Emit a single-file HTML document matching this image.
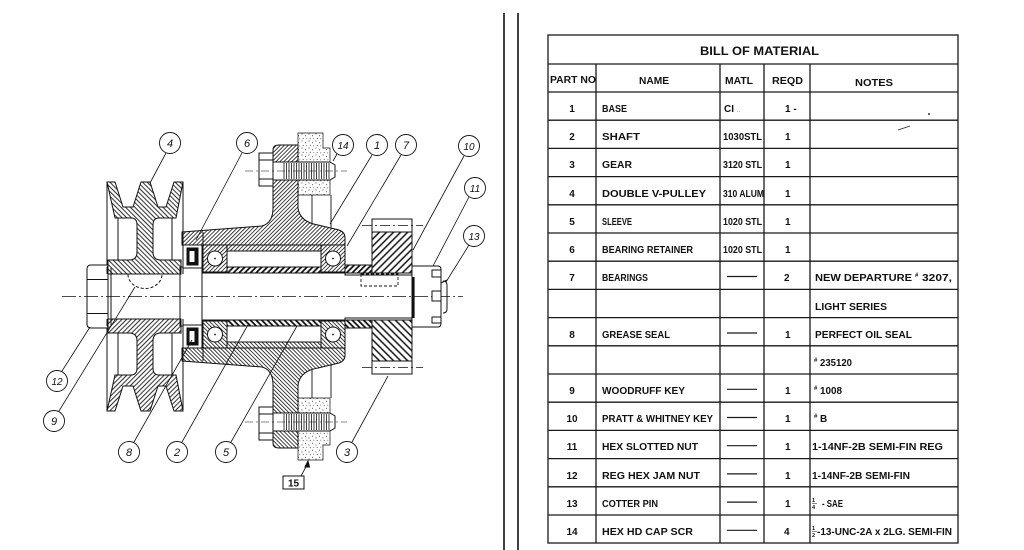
<!DOCTYPE html>
<html><head><meta charset="utf-8"><style>
html,body{margin:0;padding:0;background:#fff;}
svg{display:block;}
.t{font-family:"Liberation Sans",sans-serif;font-weight:bold;font-size:10px;fill:#111;}
.b{font-family:"Liberation Sans",sans-serif;font-style:italic;font-size:11px;fill:#111;text-anchor:middle;}
</style></head><body>
<svg width="1024" height="550" viewBox="0 0 1024 550" xmlns="http://www.w3.org/2000/svg">
<defs>
<pattern id="hL" width="3.3" height="3.3" patternUnits="userSpaceOnUse" patternTransform="rotate(-45)"><path d="M1.65,-1 V5" stroke="#111" stroke-width="0.9"/></pattern>
<pattern id="hR" width="2.8" height="2.8" patternUnits="userSpaceOnUse" patternTransform="rotate(45)"><path d="M1.4,-1 V4" stroke="#111" stroke-width="0.8"/></pattern>
<pattern id="hG" width="5" height="5" patternUnits="userSpaceOnUse" patternTransform="rotate(45)"><path d="M2.5,-1 V6" stroke="#111" stroke-width="1.5"/></pattern>
<pattern id="hS" width="4" height="4" patternUnits="userSpaceOnUse" patternTransform="rotate(45)"><path d="M2,-1 V5" stroke="#111" stroke-width="1.8"/></pattern>
<pattern id="st" width="7" height="7" patternUnits="userSpaceOnUse"><circle cx="1" cy="1" r="0.55" fill="#222"/><circle cx="4.6" cy="2.8" r="0.5" fill="#222"/><circle cx="2.2" cy="5.4" r="0.5" fill="#222"/><path d="M5,6.2 l1.2,-0.7" stroke="#222" stroke-width="0.5"/></pattern>
</defs>
<rect width="1024" height="550" fill="#fff"/>

<!-- ===== DRAWING: top half (mirrored below) ===== -->
<g id="half" fill="none" stroke="#111" stroke-width="1">
  <!-- pulley section -->
  <path d="M107,182 L115,182 L123,207 L133,207 L141,182 L150,182 L158,207 L166,207 L174,182 L183,182 L176,218 L159,218 Q153,218 153,225 L153,252 Q153,260 161,260 L181,260 L181,274 L108,274 L108,260 L129,260 Q137,260 137,252 L137,225 Q137,218 131,218 L115,218 Z" fill="url(#hL)"/>
  <path d="M107,182 V274 M183,182 V274 M118,218 V260 M172,218 V260"/>
  <!-- shaft -->
  <path d="M108,296.5 V274 H180 V267 H202 V273 H345 V275 H412 V296.5"/>
  <path d="M180,267 V296.5 M202,267 V296.5 M111,268 V296.5"/>
  <!-- jam nut 12 -->
  <path d="M108,265 H91 Q87,265 87,269 V296.5 M87,279.5 H108 M108,265 V296.5" fill="#fff"/>
  <!-- base -->
  <path d="M182,232 L262,226 Q273,223 273,208 L273,150 Q273,145 279,145 L298,145 L298,208 Q300,222 318,225 L339,230 Q345,232 345,238 L345,245 L182,245 Z" fill="url(#hR)"/>
  <path d="M203,232 V245"/>
  <!-- stipple support -->
  <path d="M298,133 H323 V148 H330 V195 H298 Z" fill="url(#st)" stroke-width="0.7"/>
  <path d="M312,195 V223 M331,195 V228" stroke-width="0.9"/>
  <!-- bore strip between bearings -->
  <rect x="227" y="245" width="94" height="6" fill="url(#hR)"/>
  <!-- seal -->
  <rect x="183" y="245" width="19" height="23" fill="#fff"/>
  <rect x="187" y="248" width="11" height="17" fill="#111"/>
  <rect x="189.5" y="251" width="5" height="11" fill="#fff" stroke="none"/>
  <!-- bearings -->
  <rect x="203" y="245" width="24" height="27" fill="url(#hR)"/>
  <circle cx="215" cy="258.5" r="7.5" fill="#fff"/>
  <circle cx="215" cy="258.5" r="0.9" fill="#111" stroke="none"/>
  <rect x="321" y="245" width="24" height="27" fill="url(#hR)"/>
  <circle cx="333" cy="258.5" r="7.5" fill="#fff"/>
  <circle cx="333" cy="258.5" r="0.9" fill="#111" stroke="none"/>
  <!-- sleeve -->
  <rect x="227" y="267" width="94" height="6" fill="url(#hS)"/>
  <!-- gear hub strip and gear -->
  <rect x="345" y="265" width="27" height="8" fill="url(#hS)"/>
  <rect x="372" y="232" width="40" height="41" fill="url(#hG)"/>
  <rect x="372" y="219" width="40" height="13" fill="#fff"/>
  <path d="M362,225.5 H423" stroke-width="0.7" stroke-dasharray="10 3 2 3"/>
  <!-- slotted nut 11 -->
  <path d="M412,266 H438 Q441,266 441,270 V296.5 M412,266 V296.5" fill="#fff"/>
  <!-- bolt 14 -->
  <rect x="259" y="153" width="14" height="33" fill="#fff"/>
  <path d="M259,160 H273 M259,179 H273"/>
  <path d="M273,162 H330 L335,165 V177 L330,180 H273 Z" fill="#fff"/>
  <path d="M284,163V179M286.5,163V179M289,163V179M291.5,163V179M294,163V179M296.5,163V179M299,163V179M301.5,163V179M304,163V179M306.5,163V179M309,163V179M311.5,163V179M314,163V179M316.5,163V179M319,163V179M321.5,163V179M324,163V179M326.5,163V179M329,163V179" stroke-width="0.8"/>
  <path d="M245,171 H347" stroke-width="0.6" stroke-dasharray="8 3 2 3"/>
</g>
<use href="#half" transform="matrix(1 0 0 -1 0 593)"/>

<!-- non-mirrored details -->
<g fill="none" stroke="#111" stroke-width="1">
  <path d="M62,296.5 H463" stroke-width="0.7" stroke-dasharray="14 3 2 3"/>
  <path d="M128,274.5 A17,14 0 0 0 162,274.5" stroke-dasharray="3 2"/>
  <rect x="361" y="274" width="37" height="12" stroke-dasharray="3 2" stroke-width="0.9"/>
  <path d="M413.5,277 V318" stroke-width="2.2"/>
  <rect x="432" y="270" width="9" height="7" fill="#fff"/>
  <rect x="432" y="291" width="9" height="10" fill="#fff"/>
  <rect x="432" y="317" width="9" height="6" fill="#fff"/>
  <path d="M441,283 L447,280 M443,281 Q447,281 447,285 V309 Q447,313 443,313"/>
  <!-- leaders -->
  <g stroke-width="0.8">
    <path d="M166,153 L150,183"/>
    <path d="M242,153 L196,240"/>
    <path d="M337,154 L333,161"/>
    <path d="M372,155 L330,224"/>
    <path d="M401,155 L347,246"/>
    <path d="M464,156 L413,250"/>
    <path d="M469,197 L433,266"/>
    <path d="M469,245 L446,282"/>
    <path d="M62,371 L90,327"/>
    <path d="M59,411 L135,287"/>
    <path d="M134,442 L192,340"/>
    <path d="M182,442 L249,323"/>
    <path d="M231,442 L297,326"/>
    <path d="M352,442 L388,376"/>
    <path d="M301,476 L308,463"/>
  </g>
  <path d="M308,461 L305,467 L309.5,467 Z" fill="#111"/>
  <rect x="283" y="476" width="21" height="13"/>
  <!-- balloons -->
  <g fill="#fff" stroke-width="0.9">
    <circle cx="170" cy="143" r="10.5"/>
    <circle cx="247" cy="143" r="10.5"/>
    <circle cx="343" cy="145" r="10.5"/>
    <circle cx="377" cy="145" r="10.5"/>
    <circle cx="406" cy="145" r="10.5"/>
    <circle cx="469" cy="146" r="10.5"/>
    <circle cx="475" cy="188" r="10.5"/>
    <circle cx="474" cy="236" r="10.5"/>
    <circle cx="57" cy="381" r="10.5"/>
    <circle cx="54" cy="421" r="10.5"/>
    <circle cx="129" cy="452" r="10.5"/>
    <circle cx="177" cy="452" r="10.5"/>
    <circle cx="226" cy="452" r="10.5"/>
    <circle cx="347" cy="452" r="10.5"/>
  </g>
</g>
<g class="b">
  <text x="170" y="147">4</text>
  <text x="247" y="147">6</text>
  <text x="343" y="149" style="font-size:10px">14</text>
  <text x="377" y="149">1</text>
  <text x="406" y="149">7</text>
  <text x="469" y="150" style="font-size:10px">10</text>
  <text x="475" y="192" style="font-size:10px">11</text>
  <text x="474" y="240" style="font-size:10px">13</text>
  <text x="57" y="385" style="font-size:10px">12</text>
  <text x="54" y="425">9</text>
  <text x="129" y="456">8</text>
  <text x="177" y="456">2</text>
  <text x="226" y="456">5</text>
  <text x="347" y="456">3</text>
</g>
<text x="293.5" y="486.5" class="t" text-anchor="middle">15</text>

<!-- divider double lines -->
<path d="M504,13 V550 M518,13 V550" stroke="#111" stroke-width="1.6"/>

<!-- ===== TABLE ===== -->
<g stroke="#1a1a1a" stroke-width="1.3" fill="none">
  <rect x="548" y="35" width="410" height="508"/>
  <path d="M548,64 H958 M548,92 H958"/>
  <path d="M548,120.2H958M548,148.4H958M548,176.6H958M548,204.8H958M548,233H958M548,261.2H958M548,289.4H958M548,317.6H958M548,345.8H958M548,374H958M548,402.2H958M548,430.4H958M548,458.6H958M548,486.8H958M548,515H958"/>
  <path d="M596,64 V543 M720,64 V543 M764,64 V543 M810,64 V543"/>
  <!-- MATL dashes -->
  <path d="M727,276.5H757M727,333H757M727,389.3H757M727,417.5H757M727,445.7H757M727,473.9H757M727,502.1H757M727,530.3H757" stroke-width="1.2"/>
  <path d="M898,130 L910,126" stroke-width="0.7"/>
</g>
<circle cx="929" cy="114" r="1" fill="#333"/>

<g class="t">
  <text x="700" y="55" textLength="119" lengthAdjust="spacingAndGlyphs" style="font-size:12px">BILL OF MATERIAL</text>
  <text x="550" y="83" textLength="46" lengthAdjust="spacingAndGlyphs" style="font-size:10.5px">PART NO</text>
  <text x="639" y="84" textLength="30" lengthAdjust="spacingAndGlyphs" style="font-size:10.5px">NAME</text>
  <text x="725" y="84" textLength="28" lengthAdjust="spacingAndGlyphs" style="font-size:10.5px">MATL</text>
  <text x="772" y="84" textLength="31" lengthAdjust="spacingAndGlyphs" style="font-size:10.5px">REQD</text>
  <text x="855" y="86" textLength="38" lengthAdjust="spacingAndGlyphs" style="font-size:10.5px">NOTES</text>

  <!-- part numbers -->
  <g text-anchor="middle">
    <text x="572" y="112">1</text>
    <text x="572" y="140">2</text>
    <text x="572" y="168">3</text>
    <text x="572" y="197">4</text>
    <text x="572" y="225">5</text>
    <text x="572" y="253">6</text>
    <text x="572" y="281">7</text>
    <text x="572" y="338">8</text>
    <text x="572" y="394">9</text>
    <text x="572" y="422">10</text>
    <text x="572" y="450">11</text>
    <text x="572" y="479">12</text>
    <text x="572" y="507">13</text>
    <text x="572" y="535">14</text>
  </g>
  <!-- names -->
  <text x="602" y="112" textLength="25" lengthAdjust="spacingAndGlyphs">BASE</text>
  <text x="602" y="140" textLength="38" lengthAdjust="spacingAndGlyphs">SHAFT</text>
  <text x="602" y="168" textLength="30" lengthAdjust="spacingAndGlyphs">GEAR</text>
  <text x="602" y="197" textLength="104" lengthAdjust="spacingAndGlyphs">DOUBLE V-PULLEY</text>
  <text x="602" y="225" textLength="30" lengthAdjust="spacingAndGlyphs">SLEEVE</text>
  <text x="602" y="253" textLength="91" lengthAdjust="spacingAndGlyphs">BEARING RETAINER</text>
  <text x="602" y="281" textLength="46" lengthAdjust="spacingAndGlyphs">BEARINGS</text>
  <text x="602" y="338" textLength="68" lengthAdjust="spacingAndGlyphs">GREASE SEAL</text>
  <text x="602" y="394" textLength="83" lengthAdjust="spacingAndGlyphs">WOODRUFF KEY</text>
  <text x="602" y="422" textLength="111" lengthAdjust="spacingAndGlyphs">PRATT &amp; WHITNEY KEY</text>
  <text x="602" y="450" textLength="96" lengthAdjust="spacingAndGlyphs">HEX SLOTTED NUT</text>
  <text x="602" y="479" textLength="98" lengthAdjust="spacingAndGlyphs">REG HEX JAM NUT</text>
  <text x="602" y="507" textLength="56" lengthAdjust="spacingAndGlyphs">COTTER PIN</text>
  <text x="602" y="535" textLength="91" lengthAdjust="spacingAndGlyphs">HEX HD CAP SCR</text>
  <!-- MATL -->
  <text x="724" y="112">CI <tspan style="font-size:6px;font-weight:normal" fill="#777">..</tspan></text>
  <text x="723" y="140" textLength="39" lengthAdjust="spacingAndGlyphs">1030STL</text>
  <text x="723" y="168" textLength="39" lengthAdjust="spacingAndGlyphs">3120 STL</text>
  <text x="723" y="197" textLength="41" lengthAdjust="spacingAndGlyphs">310 ALUM</text>
  <text x="723" y="225" textLength="39" lengthAdjust="spacingAndGlyphs">1020 STL</text>
  <text x="723" y="253" textLength="39" lengthAdjust="spacingAndGlyphs">1020 STL</text>
  <!-- REQD -->
  <text x="785" y="112">1 -</text>
  <text x="785" y="140">1</text>
  <text x="785" y="168">1</text>
  <text x="785" y="197">1</text>
  <text x="785" y="225">1</text>
  <text x="785" y="253">1</text>
  <text x="784" y="281">2</text>
  <text x="785" y="338">1</text>
  <text x="785" y="394">1</text>
  <text x="785" y="422">1</text>
  <text x="785" y="450">1</text>
  <text x="785" y="479">1</text>
  <text x="785" y="507">1</text>
  <text x="784" y="535">4</text>
  <!-- NOTES -->
  <text x="815" y="281" textLength="97" lengthAdjust="spacingAndGlyphs">NEW DEPARTURE</text>
  <text x="915" y="277" style="font-size:6px">#</text>
  <text x="922" y="281" textLength="30" lengthAdjust="spacingAndGlyphs">3207,</text>
  <text x="815" y="310" textLength="72" lengthAdjust="spacingAndGlyphs">LIGHT SERIES</text>
  <text x="815" y="338" textLength="97" lengthAdjust="spacingAndGlyphs">PERFECT OIL SEAL</text>
  <text x="814" y="362" style="font-size:6px">#</text>
  <text x="820" y="366" textLength="32" lengthAdjust="spacingAndGlyphs">235120</text>
  <text x="814" y="390" style="font-size:6px">#</text>
  <text x="820" y="394" textLength="22" lengthAdjust="spacingAndGlyphs">1008</text>
  <text x="814" y="418" style="font-size:6px">#</text>
  <text x="820" y="422">B</text>
  <text x="812" y="450" textLength="131" lengthAdjust="spacingAndGlyphs">1-14NF-2B SEMI-FIN REG</text>
  <text x="812" y="479" textLength="98" lengthAdjust="spacingAndGlyphs">1-14NF-2B SEMI-FIN</text>
  <text x="812" y="502" style="font-size:5.5px">1</text>
  <text x="812" y="509" style="font-size:5.5px">4</text>
  <text x="822" y="507" textLength="21" lengthAdjust="spacingAndGlyphs">- SAE</text>
  <text x="812" y="530" style="font-size:5.5px">1</text>
  <text x="812" y="537" style="font-size:5.5px">2</text>
  <text x="817" y="535" textLength="135" lengthAdjust="spacingAndGlyphs">-13-UNC-2A x 2LG. SEMI-FIN</text>
</g>
<path d="M812,503.5 H817 M812,531.5 H817" stroke="#111" stroke-width="0.6"/>
</svg>
</body></html>
